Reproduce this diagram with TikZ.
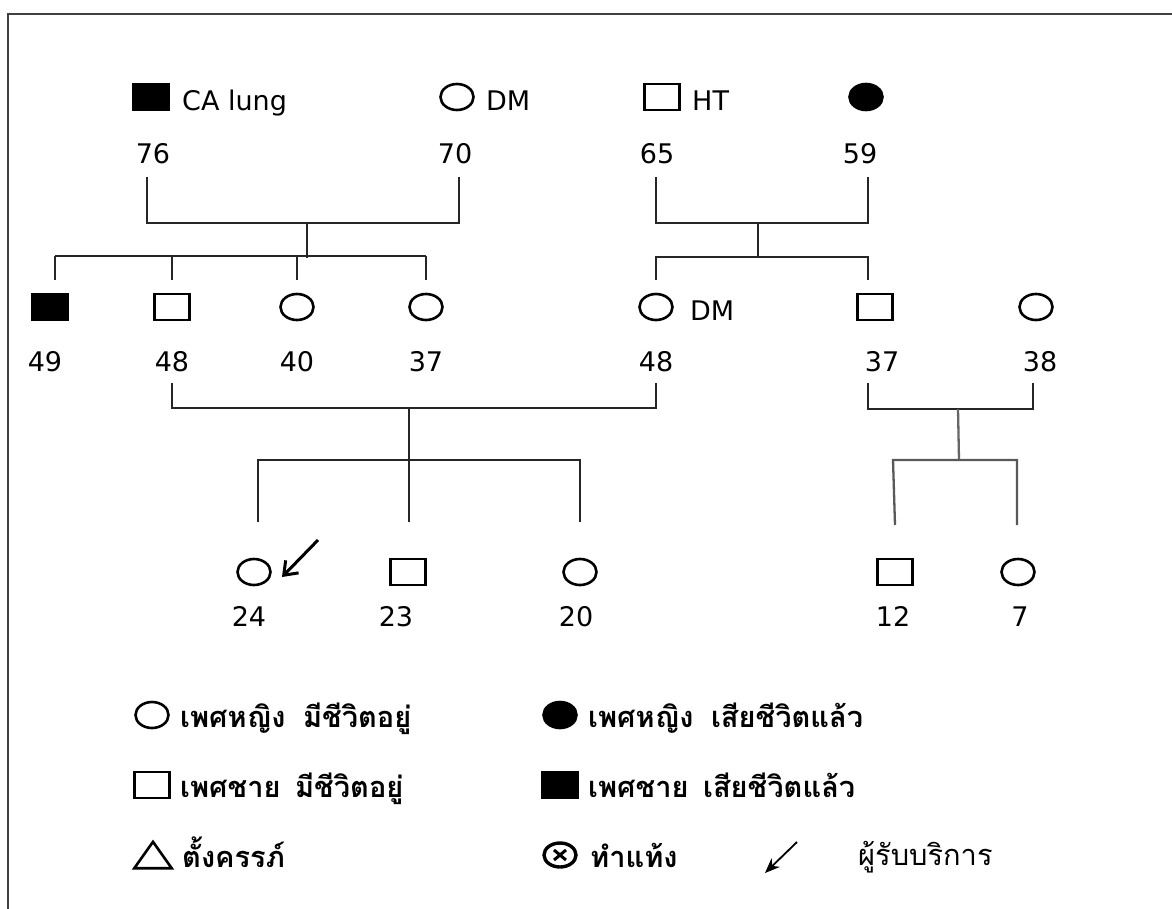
\documentclass[tikz,border=0pt]{standalone}
\usepackage{fontspec}
\setmainfont{DejaVu Sans}
\newfontfamily\thaifont[Script=Thai]{Loma}
\usetikzlibrary{shapes.geometric,arrows.meta}
\begin{document}
\begin{tikzpicture}[x=1pt,y=-1pt,
  sym/.style={draw=black, line width=2.6pt, inner sep=0pt},
  sq/.style={sym, rectangle, minimum width=35pt, minimum height=26pt},
  sqd/.style={sq, fill=black},
  el/.style={sym, ellipse, minimum width=33pt, minimum height=26pt},
  eld/.style={el, fill=black},
  lbl/.style={font=\fontsize{27}{32}\selectfont, inner sep=0pt, anchor=base},
  note/.style={lbl, anchor=base west},
  tlbl/.style={font=\thaifont\bfseries\fontsize{29}{34}\selectfont, inner sep=0pt, anchor=base west},
  ln/.style={line width=2.3pt, draw=black!85},
  pointer/.style={line width=3pt, -{Straight Barb[length=12pt,width=18pt,line width=3pt]}},
  lpointer/.style={line width=1.8pt, -{Stealth[length=15pt,width=12pt]}}
]
\useasboundingbox (0,0) rectangle (1172,908);
\clip (0,0) rectangle (1172,908);
% frame
\coordinate (fb) at (8,930);
\coordinate (ft) at (8,14);
\coordinate (fr) at (1190,14);
\draw[line width=2.6pt, draw=black!75] (fb) -- (ft) -- (fr);

% ---------- Generation I ----------
\node[sqd] (g1a) at (151,97) {};
\node[note] (t1a) at (182,110) {CA lung};
\node[el] (g1b) at (457,97) {};
\node[note] (t1b) at (486,110) {DM};
\node[sq] (g1c) at (662,97) {};
\node[note] (t1c) at (692,110) {HT};
\node[eld] (g1d) at (866,97) {};

\node[lbl] (a1a) at (153,163) {76};
\node[lbl] (a1b) at (455,163) {70};
\node[lbl] (a1c) at (657,163) {65};
\node[lbl] (a1d) at (860,163) {59};

% left couple
\coordinate (p1a) at (147,177); \coordinate (q1a) at (147,223);
\coordinate (p1b) at (459,177); \coordinate (q1b) at (459,223);
\coordinate (m1) at (307,223); \coordinate (n1) at (307,258);
\draw[ln] (p1a) -- (q1a) -- (q1b) -- (p1b);
\draw[ln] (m1) -- (n1);
\coordinate (s1l) at (55,256); \coordinate (s1r) at (426,256);
\draw[ln] (s1l) -- (s1r);
\coordinate (s1b) at (172,256); \coordinate (s1c) at (297,256);
\coordinate (d1a) at (55,280); \coordinate (d1b) at (172,280);
\coordinate (d1c) at (297,280); \coordinate (d1d) at (426,280);
\draw[ln] (s1l) -- (d1a) (s1b) -- (d1b) (s1c) -- (d1c) (s1r) -- (d1d);

% right couple
\coordinate (p2a) at (656,177); \coordinate (q2a) at (656,223);
\coordinate (p2b) at (868,177); \coordinate (q2b) at (868,223);
\coordinate (m2) at (758,223); \coordinate (n2) at (758,257);
\draw[ln] (p2a) -- (q2a) -- (q2b) -- (p2b);
\draw[ln] (m2) -- (n2);
\coordinate (s2l) at (656,257); \coordinate (s2r) at (868,257);
\coordinate (d2a) at (656,280); \coordinate (d2b) at (868,280);
\draw[ln] (d2a) -- (s2l) -- (s2r) -- (d2b);

% ---------- Generation II ----------
\node[sqd] (g2a) at (50,307) {};
\node[sq]  (g2b) at (172,307) {};
\node[el]  (g2c) at (297,307) {};
\node[el]  (g2d) at (426,307) {};
\node[el]  (g2e) at (656,307) {};
\node[note] (t2e) at (690,320) {DM};
\node[sq]  (g2f) at (875,307) {};
\node[el]  (g2g) at (1036,307) {};

\node[lbl] (a2a) at (45,371) {49};
\node[lbl] (a2b) at (172,371) {48};
\node[lbl] (a2c) at (297,371) {40};
\node[lbl] (a2d) at (426,371) {37};
\node[lbl] (a2e) at (656,371) {48};
\node[lbl] (a2f) at (882,371) {37};
\node[lbl] (a2g) at (1040,371) {38};

% marriage 48 - 48
\coordinate (p3a) at (172,383); \coordinate (q3a) at (172,408);
\coordinate (p3b) at (656,383); \coordinate (q3b) at (656,408);
\coordinate (m3) at (409,408); \coordinate (n3) at (409,522);
\draw[ln] (p3a) -- (q3a) -- (q3b) -- (p3b);
\draw[ln] (m3) -- (n3);
\coordinate (s3l) at (258,460); \coordinate (s3r) at (580,460);
\coordinate (d3a) at (258,522); \coordinate (d3c) at (580,522);
\draw[ln] (d3a) -- (s3l) -- (s3r) -- (d3c);

% marriage 37 - 38
\coordinate (p4a) at (868,383); \coordinate (q4a) at (868,409);
\coordinate (p4b) at (1033,383); \coordinate (q4b) at (1033,409);
\coordinate (m4) at (958,409); \coordinate (n4) at (959,460);
\draw[ln] (p4a) -- (q4a) -- (q4b) -- (p4b);
\draw[ln, draw=black!60] (m4) -- (n4);
\coordinate (s4l) at (893,460); \coordinate (s4r) at (1017,460);
\coordinate (d4a) at (895,525); \coordinate (d4b) at (1017,525);
\draw[ln, draw=black!65] (d4a) -- (s4l) -- (s4r) -- (d4b);

% ---------- Generation III ----------
\node[el] (g3a) at (254,572) {};
\node[sq] (g3b) at (408,572) {};
\node[el] (g3c) at (580,572) {};
\node[sq] (g3d) at (895,572) {};
\node[el] (g3e) at (1018,572) {};

\node[lbl] (a3a) at (249,626) {24};
\node[lbl] (a3b) at (396,626) {23};
\node[lbl] (a3c) at (576,626) {20};
\node[lbl] (a3d) at (893,626) {12};
\node[lbl] (a3e) at (1020,626) {7};

\coordinate (pt0) at (318,540);
\coordinate (pt1) at (282,577);
\draw[pointer] (pt0) -- (pt1);

% ---------- Legend ----------
\node[el] (k1) at (152,715) {};
\node[tlbl] (kt1) at (180,727) {เพศหญิง\hspace{0.6em}มีชีวิตอยู่};
\node[eld] (k2) at (560,715) {};
\node[tlbl] (kt2) at (588,727) {เพศหญิง\hspace{0.6em}เสียชีวิตแล้ว};
\node[sq] (k3) at (152,785) {};
\node[tlbl] (kt3) at (180,797) {เพศชาย\hspace{0.5em}มีชีวิตอยู่};
\node[sqd] (k4) at (560,785) {};
\node[tlbl] (kt4) at (588,797) {เพศชาย\hspace{0.5em}เสียชีวิตแล้ว};
\node[minimum width=37pt, minimum height=26pt, inner sep=0pt] (k5) at (153,855) {};
\draw[line width=2.6pt, line join=miter] (k5.south west) -- (k5.south east) -- (k5.north) -- cycle;
\node[tlbl] (kt5) at (182,867) {ตั้งครรภ์};
\node[el, line width=3.4pt, minimum width=32pt, minimum height=24pt,
  path picture={\draw[line width=3pt] ([xshift=-6pt,yshift=-5pt]path picture bounding box.center) -- ([xshift=6pt,yshift=5pt]path picture bounding box.center)
  ([xshift=-6pt,yshift=5pt]path picture bounding box.center) -- ([xshift=6pt,yshift=-5pt]path picture bounding box.center);}] (k6) at (560,855) {};
\node[tlbl] (kt6) at (590,867) {ทำแท้ง};
\coordinate (lp0) at (797,842);
\coordinate (lp1) at (765,873);
\draw[lpointer] (lp0) -- (lp1);
\node[font=\thaifont\fontsize{29}{36}\selectfont, inner sep=0pt, anchor=base west] (kt7) at (858,865) {ผู้รับบริการ};
\end{tikzpicture}
\end{document}
